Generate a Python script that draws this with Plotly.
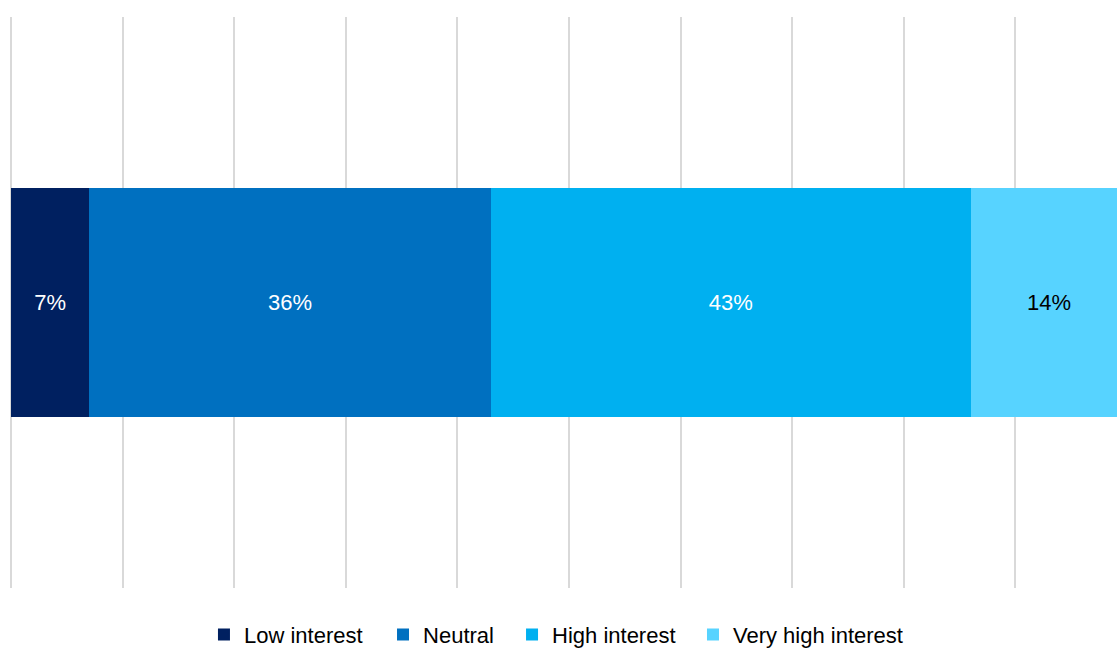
import plotly.graph_objects as go

categories = [""]
series_names = ["Low interest", "Neutral", "High interest", "Very high interest"]
series_values = [[7], [36], [43], [14]]
series_colors = ["#002060", "#0070C0", "#00B0F0", "#57D3FF"]
label_colors = ["white", "white", "white", "black"]

FONT = "Arial, Liberation Sans, sans-serif"

# each legend entry placed where the reference has it (container x of its box)
legend_ids = ["legend", "legend2", "legend3", "legend4"]
legend_x = [0.1826, 0.3429, 0.4584, 0.6204]
LEGEND_Y = 0.0205

fig = go.Figure()
for name, vals, col, lc, lid in zip(series_names, series_values, series_colors,
                                    label_colors, legend_ids):
    fig.add_trace(go.Bar(
        y=categories, x=vals, name=name, orientation="h",
        marker=dict(color=col, line=dict(width=0)),
        text=[f"{v}%" for v in vals], textposition="inside",
        insidetextanchor="middle",
        textfont=dict(color=lc, size=22, family=FONT),
        hoverinfo="skip", legend=lid, showlegend=True,
    ))

legend_common = dict(orientation="h", xanchor="left", yanchor="middle",
                     xref="container", yref="container",
                     y=LEGEND_Y, bgcolor="rgba(0,0,0,0)", borderwidth=0,
                     font=dict(size=22, family=FONT, color="black"),
                     itemclick=False, itemdoubleclick=False)

fig.update_layout(
    barmode="stack",
    bargap=0.6,
    width=1117, height=648,
    showlegend=True,
    margin=dict(l=11, r=0, t=17, b=60, autoexpand=False),
    paper_bgcolor="white", plot_bgcolor="white",
    uniformtext=dict(mode="show", minsize=22),
    xaxis=dict(range=[0, 99.1], dtick=10, showticklabels=False,
               showgrid=True, gridcolor="#d9d9d9", gridwidth=1.5,
               zeroline=True, zerolinecolor="#d9d9d9", zerolinewidth=1.5,
               showline=False, ticks=""),
    yaxis=dict(showticklabels=False, showgrid=False, zeroline=False,
               showline=False, ticks=""),
    font=dict(family=FONT),
    **{lid: dict(x=lx, **legend_common) for lid, lx in zip(legend_ids, legend_x)},
)

fig.write_html(
    "out.html",
    config={"displayModeBar": False},
    post_script="document.body.style.margin='0';document.body.style.overflow='hidden';",
)
